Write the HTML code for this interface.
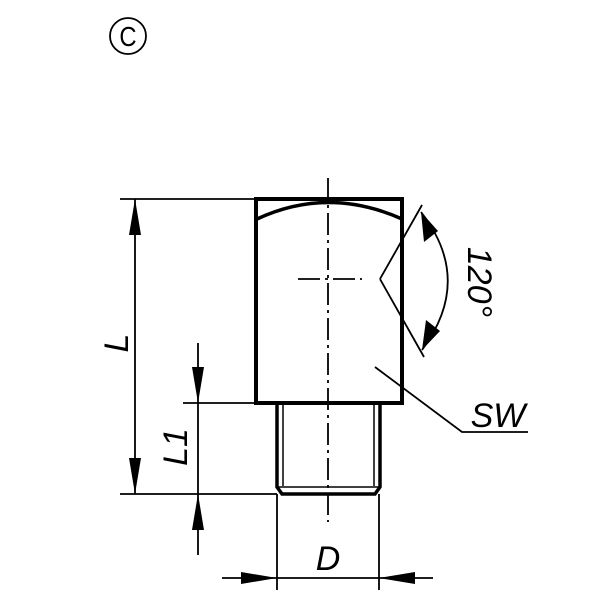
<!DOCTYPE html>
<html><head><style>body{margin:0;background:#fff}svg{display:block}</style></head><body>
<svg width="600" height="600" viewBox="0 0 600 600" xmlns="http://www.w3.org/2000/svg" font-family="Liberation Sans, sans-serif">
<circle cx="128" cy="36" r="18" fill="none" stroke="#000" stroke-width="1.8"/>
<text x="128" y="46" font-size="28" text-anchor="middle" transform="translate(128,0) scale(0.85,1) translate(-128,0)">C</text>
<g stroke="#000" fill="none">
<rect x="256" y="199" width="146" height="204" stroke-width="4"/>
<path d="M257 219 Q328 186 402 219" stroke-width="3.5"/>
<path d="M277 403 V487 L282 494 H375 L380 487 V403" stroke-width="3.5"/>
<path d="M283 403 V486 M374 403 V486 M278 487 H379" stroke-width="1.5"/>
<path d="M328 178 V522" stroke-width="1.8" stroke-dasharray="22,5,3,5"/>
<path d="M298 279 H362" stroke-width="1.8" stroke-dasharray="22,5,3,5"/>
<path d="M380 279 L422 205 M380 279 L424 357" stroke-width="1.8"/>
<path d="M421 212 Q474 280 422 350" stroke-width="1.8"/>
<path d="M375 367 L462 432 H528" stroke-width="1.8"/>
<path d="M120 199 H256 M120 494 H277 M135 199 V494" stroke-width="1.8"/>
<path d="M183 403 H256 M198 343 V555" stroke-width="1.8"/>
<path d="M277 494 V590 M379 494 V590 M222 578 H433" stroke-width="1.8"/>
</g>
<g fill="#000">
<polygon points="135,199 129,235 141,235"/>
<polygon points="135,494 129,458 141,458"/>
<polygon points="198,403 192,367 204,367"/>
<polygon points="198,494 192,530 204,530"/>
<polygon points="277,578 241,572 241,584"/>
<polygon points="379,578 415,572 415,584"/>
<polygon points="421,212 424,242 438,231"/>
<polygon points="422,350 426,320 440,331"/>
</g>
<g font-size="34" font-style="italic">
<text x="498" y="427" text-anchor="middle">SW</text>
<text x="328" y="570" text-anchor="middle">D</text>
<text transform="translate(128,343) rotate(-90)" text-anchor="middle">L</text>
<text transform="translate(187,447) rotate(-90)" text-anchor="middle">L1</text>
<text transform="translate(468,282) rotate(90)" text-anchor="middle">120°</text>
</g>
</svg>
</body></html>
